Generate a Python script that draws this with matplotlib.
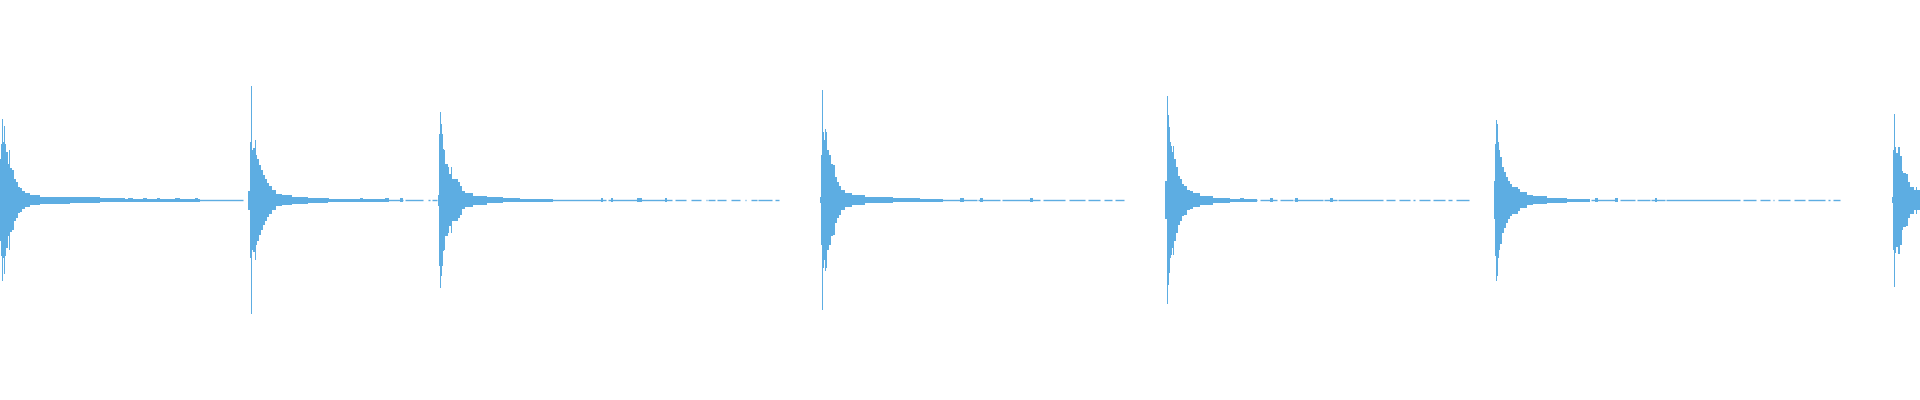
import matplotlib
matplotlib.use("Agg")
import matplotlib.pyplot as plt
import numpy as np

# Waveform of 7 decaying strikes. Time in ms, amplitude in % of full scale.
COLOR = "#5dade2"
DURATION_MS = 19200

onsets_ms = [0, 2480, 4380, 8200, 11650, 14940, 18920]

# Envelope per strike: step edges (ms after onset) and half-heights (% full scale)
env1_edges = [0, 10, 20, 30, 40, 50, 60, 80, 90, 100, 120, 140, 160, 180, 200, 220, 250, 300, 400, 700, 1000, 1250, 2000]
env1_amps = [20.5, 28, 40.5, 29, 37, 28, 24, 18, 25, 16, 15, 10.5, 9, 6.5, 6, 4.5, 3.5, 2.5, 1.75, 1.5, 1, 0.75]

env2_edges = [0, 20, 30, 40, 50, 70, 80, 90, 110, 130, 150, 170, 190, 210, 240, 280, 340, 440, 600, 800, 1400]
env2_amps = [4.75, 29, 57, 25, 26, 30, 22.5, 20.5, 17.5, 15, 12.5, 10.5, 8.5, 7, 5, 3, 2.5, 1.75, 1.25, 0.75]

env3_edges = [0, 10, 20, 30, 40, 50, 60, 70, 100, 110, 130, 140, 200, 220, 240, 270, 350, 490, 650, 820, 1150]
env3_amps = [2.75, 33, 44, 38, 33, 25.5, 25, 18, 16.5, 13, 16.5, 10.5, 9, 7.25, 4.5, 3.5, 2.25, 1.5, 1, 0.75]

env4_edges = [0, 10, 20, 30, 40, 50, 60, 70, 90, 110, 130, 150, 170, 190, 210, 250, 320, 450, 730, 1000, 1230]
env4_amps = [1.5, 22.5, 55, 34, 30, 35.5, 34, 25, 22.5, 18, 17.5, 11.5, 9, 7.25, 5, 3.5, 2.5, 1.5, 1, 0.75]

env5_edges = [0, 20, 30, 40, 50, 60, 70, 80, 90, 110, 130, 150, 170, 190, 220, 250, 280, 350, 480, 650, 920]
env5_amps = [9.5, 52, 42.5, 36.5, 29, 27.25, 24, 27.25, 20.5, 16.5, 12.25, 10.5, 8, 7.25, 5, 4.5, 3.5, 2.25, 1.25, 0.75]

env6_edges = [0, 10, 20, 30, 40, 50, 60, 80, 100, 120, 140, 160, 180, 240, 260, 330, 390, 530, 730, 960]
env6_amps = [9.5, 28, 40.25, 38, 29, 25, 21.75, 16.5, 14, 11.5, 9.5, 8, 6.75, 5.5, 4, 2.5, 2, 1.25, 0.75]

env7_edges = [0, 10, 20, 30, 40, 60, 80, 100, 110, 140, 160, 180, 220, 240, 250, 280]
env7_amps = [1.5, 25, 43.25, 26.5, 23.5, 26.75, 22.25, 14.75, 13.5, 13, 9, 6.75, 5, 6.75, 5]

envelope_edges = [env1_edges, env2_edges, env3_edges, env4_edges, env5_edges, env6_edges, env7_edges]
envelope_amps = [env1_amps, env2_amps, env3_amps, env4_amps, env5_amps, env6_amps, env7_amps]

# Low-level ringing: spans (ms) where the signal is non-zero after each strike
ring_start = [0, 1250,
              2480, 4050, 4280, 4320,
              4380, 6080, 6750, 6910, 7060, 7080, 7170, 7310, 7450, 7510, 7580, 7750,
              8200, 9330, 9630, 9780, 10020, 10430, 10690, 10880, 11040, 11150,
              11650, 12600, 12800, 12940, 13240, 13380, 13860, 13990, 14130, 14190, 14330, 14480, 14560,
              14940, 15910, 16200, 16370, 16510, 16660, 17430, 17600, 17730, 17780, 17940, 18080, 18280, 18330,
              18920]
ring_end = [1230, 2430,
            4030, 4230, 4300, 4370,
            6060, 6720, 6860, 7010, 7070, 7150, 7260, 7400, 7460, 7570, 7720, 7790,
            9310, 9620, 9770, 10000, 10400, 10650, 10850, 11000, 11120, 11240,
            12570, 12770, 12930, 13230, 13370, 13830, 13950, 14100, 14150, 14300, 14450, 14520, 14690,
            15890, 16170, 16350, 16500, 16650, 17400, 17560, 17700, 17740, 17900, 18050, 18250, 18300, 18400,
            19200]

# Small noise bursts in the tails: start (ms), length (ms), half-height (%)
blip_start = [1070, 1130, 1280, 1430, 1570, 1750, 1950, 3250, 3600, 3850, 4000,
              6010, 6110, 6370, 6400, 6650, 9150, 9600, 9800, 10300,
              12400, 12700, 12950, 13300, 15550, 15950, 16150, 16550]
blip_len = [40, 30, 50, 40, 30, 50, 30, 40, 30, 40, 30,
            20, 20, 30, 20, 20, 40, 40, 30, 30,
            40, 30, 30, 30, 40, 30, 30, 20]
blip_amp = [1.0, 0.9, 0.9, 0.9, 0.8, 0.9, 0.8, 1.0, 0.9, 0.9, 0.8,
            0.9, 0.8, 0.8, 0.8, 0.8, 1.0, 0.9, 0.9, 0.8,
            0.9, 0.9, 0.8, 0.8, 0.9, 0.9, 0.8, 0.8]

fig = plt.figure(figsize=(19.2, 4), dpi=100)
ax = fig.add_axes([0, 0, 1, 1])
ax.set_xlim(0, DURATION_MS)
ax.set_ylim(-100, 100)
ax.axis("off")

# quiet ringing line
ax.hlines(np.zeros(len(ring_start)), ring_start, ring_end, color=COLOR, lw=1.0)

# strike envelopes
for onset, edges, amps in zip(onsets_ms, envelope_edges, envelope_amps):
    e = np.asarray(edges, float) + onset
    a = np.asarray(amps, float)
    ax.stairs(a, e, baseline=-a, fill=True, color=COLOR, lw=0)

# noise blips
for s, l, a in zip(blip_start, blip_len, blip_amp):
    ax.stairs([a], [s, s + l], baseline=[-a], fill=True, color=COLOR, lw=0)

fig.savefig("out.png", dpi=100, facecolor="white")
